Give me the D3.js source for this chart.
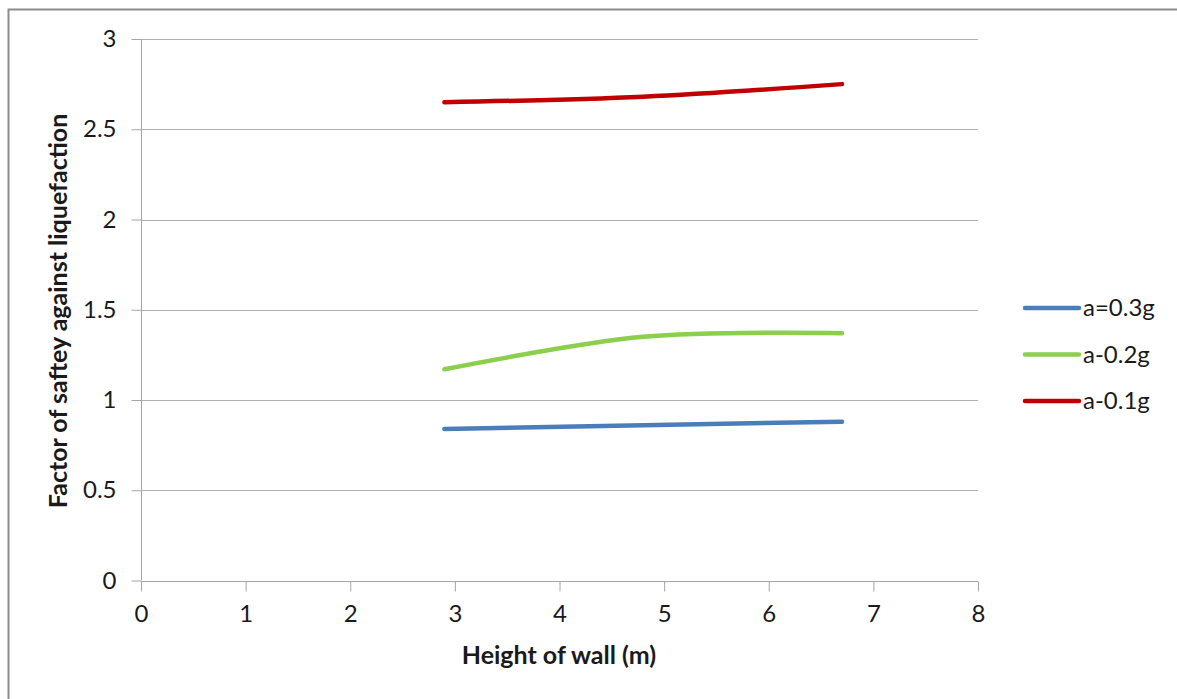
<!DOCTYPE html>
<html>
<head>
<meta charset="utf-8">
<script src="https://cdn.jsdelivr.net/npm/d3@7"></script>
<style>
  html, body { margin: 0; padding: 0; background: #ffffff; }
  svg { display: block; }
  text { font-family: Lato, "Open Sans", sans-serif; fill: #1a1a1a; }
</style>
</head>
<body>
<svg id="chart" width="1177" height="699"></svg>
<script>
// Wall heights (m) at which the factor of safety was computed
const heights = [2.9, 4.8, 6.7];

// Factor of safety against liquefaction for each peak ground acceleration
const fsA03 = [0.84, 0.86, 0.88];
const fsA02 = [1.17, 1.35, 1.37];
const fsA01 = [2.65, 2.68, 2.75];

const seriesNames = ["a=0.3g", "a-0.2g", "a-0.1g"];
const seriesColors = ["#4a7ebb", "#8ccf4d", "#c00000"];

const xTicks = [0, 1, 2, 3, 4, 5, 6, 7, 8];
const yTicks = [0, 0.5, 1, 1.5, 2, 2.5, 3];

const xTitle = "Height of wall (m)";
const yTitle = "Factor of saftey against liquefaction";

const svg = d3.select("#chart");

// outer chart frame
svg.append("rect")
  .attr("x", 8.5).attr("y", 9.5)
  .attr("width", 1177).attr("height", 699)
  .attr("fill", "#ffffff")
  .attr("stroke", "#8c8c8c")
  .attr("stroke-width", 2);

const plot = { left: 141, right: 978, top: 39, bottom: 580.5 };

const x = d3.scaleLinear().domain([0, 8]).range([plot.left, plot.right]);
const y = d3.scaleLinear().domain([0, 3]).range([plot.bottom, plot.top]);

// horizontal gridlines
svg.append("g")
  .selectAll("line")
  .data(yTicks.filter(d => d > 0))
  .join("line")
  .attr("x1", plot.left).attr("x2", plot.right)
  .attr("y1", d => Math.round(y(d)) + 0.5).attr("y2", d => Math.round(y(d)) + 0.5)
  .attr("stroke", "#b0b0b0")
  .attr("stroke-width", 1);

// y axis
const yAxis = svg.append("g")
  .attr("transform", `translate(${plot.left + 0.5},0)`)
  .call(d3.axisLeft(y).tickValues(yTicks).tickSize(10).tickPadding(15)
    .tickFormat(d3.format("~g")));
yAxis.select(".domain").attr("stroke", "#a6a6a6").attr("d", `M0,${plot.top}V${plot.bottom}`);
yAxis.selectAll(".tick line").attr("stroke", "#a6a6a6");
yAxis.selectAll(".tick text")
  .attr("font-size", 24).attr("fill", "#262626")
  .style("font-family", "Lato, sans-serif");

// x axis
const xAxis = svg.append("g")
  .attr("transform", `translate(0,${Math.round(plot.bottom) + 0.5})`)
  .call(d3.axisBottom(x).tickValues(xTicks).tickSize(10).tickPadding(13)
    .tickFormat(d3.format("d")));
xAxis.select(".domain").attr("stroke", "#a6a6a6").attr("d", `M${plot.left},0H${plot.right}`);
xAxis.selectAll(".tick line").attr("stroke", "#a6a6a6");
xAxis.selectAll(".tick text")
  .attr("font-size", 24).attr("fill", "#262626")
  .style("font-family", "Lato, sans-serif");

// data series
const series = [fsA03, fsA02, fsA01].map((vals, i) => ({
  name: seriesNames[i],
  color: seriesColors[i],
  points: heights.map((h, j) => [h, vals[j]])
}));

const line = d3.line()
  .x(d => x(d[0]))
  .y(d => y(d[1]))
  .curve(d3.curveCatmullRom.alpha(0));

svg.append("g")
  .selectAll("path")
  .data(series)
  .join("path")
  .attr("d", d => line(d.points))
  .attr("fill", "none")
  .attr("stroke", d => d.color)
  .attr("stroke-width", 4.5)
  .attr("stroke-linecap", "round")
  .attr("stroke-linejoin", "round");

// axis titles
svg.append("text")
  .attr("x", 559).attr("y", 664)
  .attr("text-anchor", "middle")
  .attr("font-size", 25).attr("font-weight", "bold")
  .text(xTitle);

svg.append("text")
  .attr("transform", "translate(67,311) rotate(-90)")
  .attr("text-anchor", "middle")
  .attr("font-size", 25).attr("font-weight", "bold")
  .text(yTitle);

// legend
const legend = svg.append("g")
  .selectAll("g")
  .data(series)
  .join("g")
  .attr("transform", (d, i) => `translate(1025,${308 + i * 46.5})`);

legend.append("line")
  .attr("x1", 0).attr("x2", 54)
  .attr("y1", 0).attr("y2", 0)
  .attr("stroke", d => d.color)
  .attr("stroke-width", 4.5)
  .attr("stroke-linecap", "round");

legend.append("text")
  .attr("x", 58).attr("y", 0)
  .attr("dy", "0.35em")
  .attr("font-size", 24).attr("fill", "#262626")
  .text(d => d.name);
</script>
</body>
</html>
